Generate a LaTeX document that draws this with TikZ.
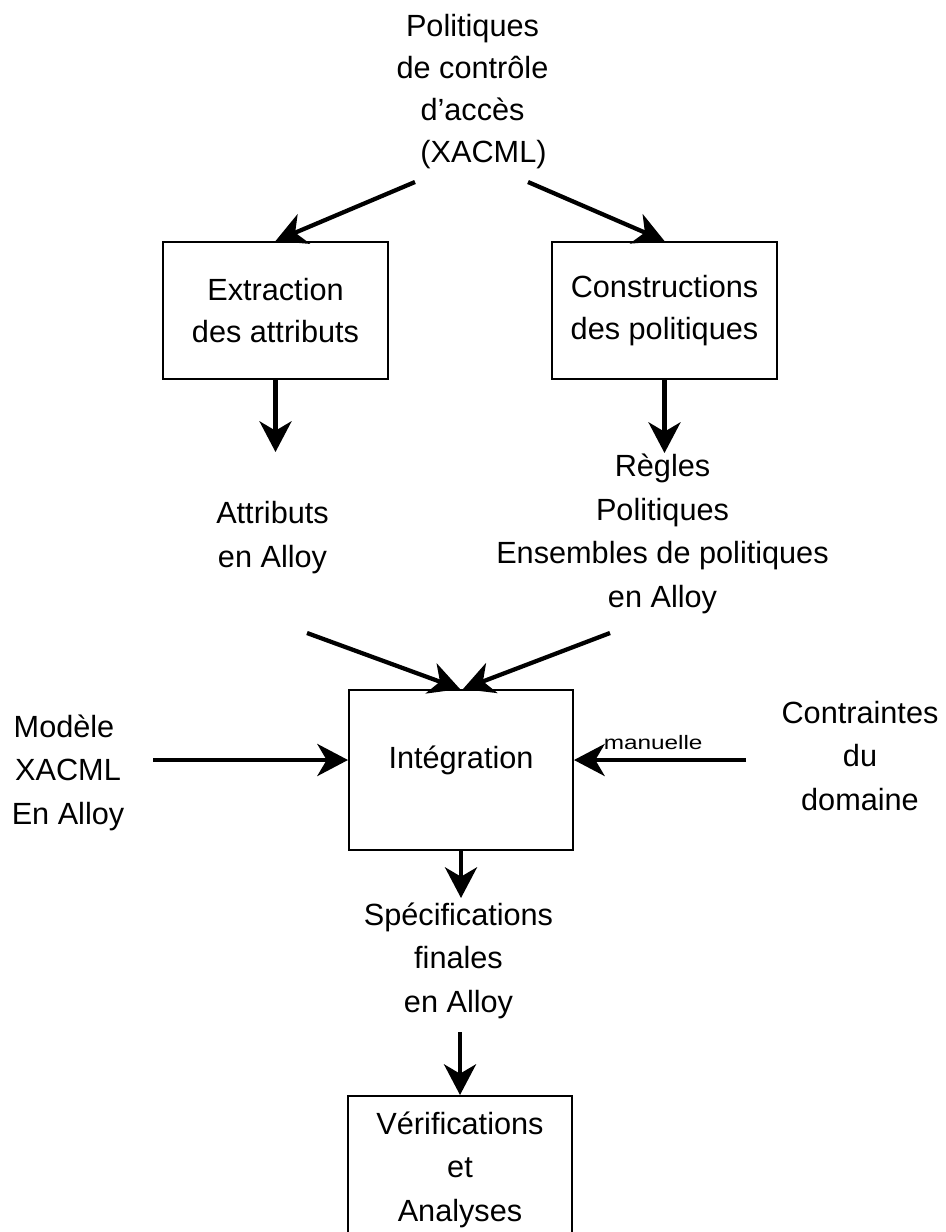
\documentclass[tikz,border=0pt]{standalone}
\usepackage{fontspec}
\setmainfont{Liberation Sans}
\usepackage{graphicx}
\usetikzlibrary{arrows.meta}
\begin{document}
\begin{tikzpicture}[x=0.75pt,y=-0.75pt,
  txt/.style={inner sep=0pt, align=center, anchor=base,
    font=\fontsize{23pt}{32.6pt}\selectfont},
  stepbox/.style={draw, line width=1.5pt, inner sep=0pt, align=center,
    minimum width=168.75pt, font=\fontsize{23pt}{31.1pt}\selectfont},
  arr/.style={line width=3.2pt,
    -{Stealth[length=23pt,width=24pt,inset=7pt]}},
]
\useasboundingbox (0,0) rectangle (946,1232);
\clip (0,0) rectangle (946,1232);

% source policies (base anchor = baseline of the last line)
\node[txt, font=\fontsize{23pt}{31.3pt}\selectfont] (policies) at (472.5,162)
  {Politiques\\de contrôle\\d’accès\\\hspace*{16.5pt}(XACML)};

% processing steps
\node[stepbox, minimum height=102.75pt] (extract) at (275.5,310.5)
  {Extraction\\des attributs};
\node[stepbox, minimum height=102.75pt] (build) at (664.5,310.5)
  {Constructions\\des politiques};

% intermediate results
\node[txt] (attrs) at (272.5,567) {Attributs\\en Alloy};
\node[txt] (rules) at (662.5,607)
  {Règles\\Politiques\\Ensembles de politiques\\en Alloy};

% integration
\node[stepbox, minimum width=168pt, minimum height=120pt,
  text height=16.4pt, text depth=19.4pt] (integ) at (461,770) {Intégration};
\node[txt] (model) at (68,824) {Modèle\hspace*{6pt}\\XACML\\En Alloy};
\node[txt] (constraints) at (860,810) {Contraintes\\du\\domaine};

% final specification and analyses
\node[txt] (spec) at (458.5,1012) {Spécifications\\finales\\en Alloy};
\node[stepbox, minimum width=168pt, minimum height=110.25pt, anchor=north,
  font=\fontsize{23pt}{32.6pt}\selectfont] (verif) at (460,1095)
  {Vérifications\\et\\Analyses};

% connectors
\coordinate (p1) at (415,182);
\coordinate (p2) at (528,182);
\coordinate (e1) at (275,452);
\coordinate (e2) at (665,453);
\coordinate (p3) at (307,633);
\coordinate (p4) at (610,633);
\coordinate (p5) at (153,760);
\coordinate (p6) at (746,760);
\coordinate (e3) at (460,898);
\coordinate (p7) at (460,1032);

\draw[arr] (p1) -- (extract.north);
\draw[arr] (p2) -- (build.north);
\draw[arr] (extract.south) -- (extract.south |- e1);
\draw[arr] (build.south) -- (build.south |- e2);
\draw[arr] (p3) -- ([xshift=-0.75pt]integ.north);
\draw[arr] (p4) -- ([xshift=1.5pt]integ.north);
\draw[arr] (p5) -- (integ.west |- p5);
\draw[arr] (p6) -- node[pos=0.54, anchor=base, yshift=8.25pt, inner sep=0pt,
  font=\fontsize{14.6pt}{16pt}\selectfont] (manual)
  {\scalebox{1.25}[1]{manuelle}} (integ.east |- p6);
\draw[arr] (integ.south) -- (integ.south |- e3);
\draw[arr] (p7) -- (verif.north);
\end{tikzpicture}
\end{document}
